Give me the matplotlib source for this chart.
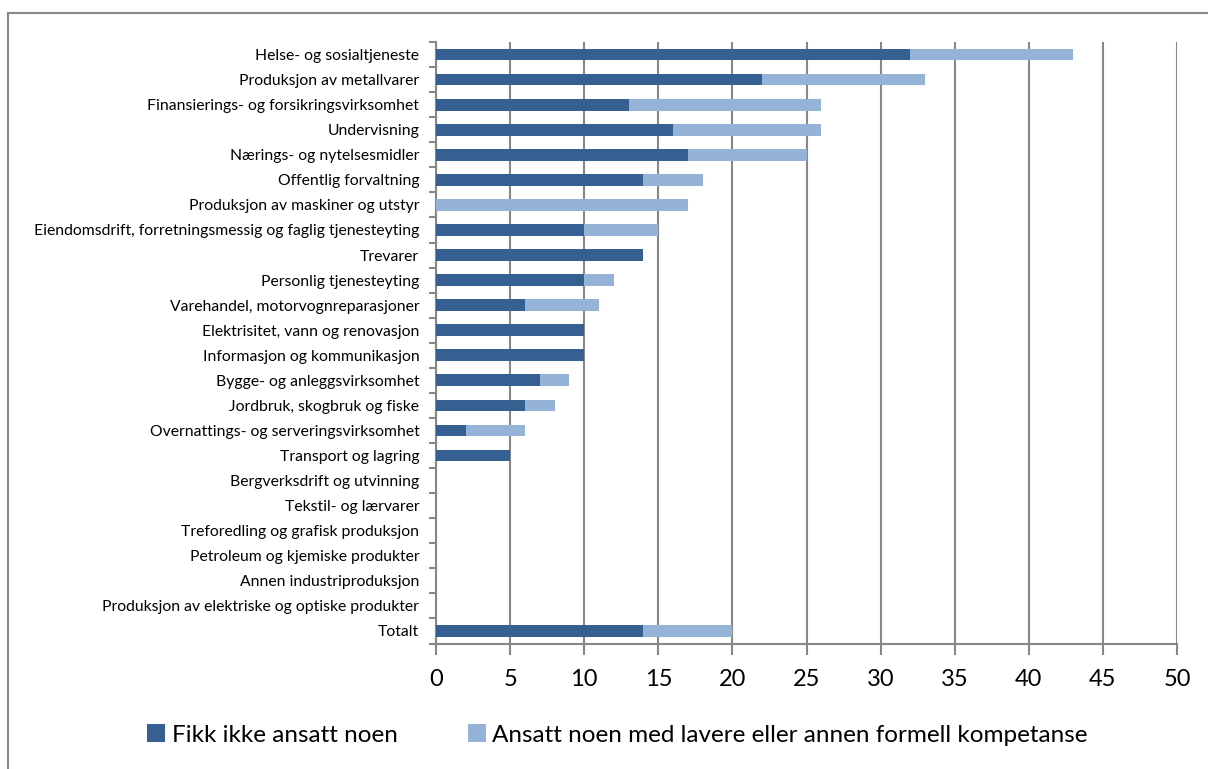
import numpy as np
import matplotlib.pyplot as plt
from matplotlib.patches import Rectangle

plt.rcParams['font.family'] = ['Lato', 'DejaVu Sans']

categories = [
    "Helse- og sosialtjeneste",
    "Produksjon av metallvarer",
    "Finansierings- og forsikringsvirksomhet",
    "Undervisning",
    "Nærings- og nytelsesmidler",
    "Offentlig forvaltning",
    "Produksjon av maskiner og utstyr",
    "Eiendomsdrift, forretningsmessig og faglig tjenesteyting",
    "Trevarer",
    "Personlig tjenesteyting",
    "Varehandel, motorvognreparasjoner",
    "Elektrisitet, vann og renovasjon",
    "Informasjon og kommunikasjon",
    "Bygge- og anleggsvirksomhet",
    "Jordbruk, skogbruk og fiske",
    "Overnattings- og serveringsvirksomhet",
    "Transport og lagring",
    "Bergverksdrift og utvinning",
    "Tekstil- og lærvarer",
    "Treforedling og grafisk produksjon",
    "Petroleum og kjemiske produkter",
    "Annen industriproduksjon",
    "Produksjon av elektriske og optiske produkter",
    "Totalt",
]
fikk_ikke = [32, 22, 13, 16, 17, 14, 0, 10, 14, 10, 6, 10, 10, 7, 6, 2, 5, 0, 0, 0, 0, 0, 0, 14]
lavere_komp = [11, 11, 13, 10, 8, 4, 17, 5, 0, 2, 5, 0, 0, 2, 2, 4, 0, 0, 0, 0, 0, 0, 0, 6]

dark = "#366092"
light = "#95b3d7"
grey = "#878787"

fig = plt.figure(figsize=(12.08, 7.69), dpi=100)
ax = fig.add_axes([436 / 1208, 1 - 643.5 / 769, (1177 - 436) / 1208, (643.5 - 42) / 769])

y = np.arange(len(categories))
ax.barh(y, fikk_ikke, height=0.47, color=dark, label="Fikk ikke ansatt noen", zorder=3)
ax.barh(y, lavere_komp, left=fikk_ikke, height=0.47, color=light,
        label="Ansatt noen med lavere eller annen formell kompetanse", zorder=3)

ax.set_xlim(0, 50)
ax.set_ylim(len(categories) - 0.5, -0.5)
ax.set_xticks(np.arange(0, 51, 5))
ax.set_yticks(y)
ax.set_yticklabels(categories, fontsize=11.3)
ax.set_yticks(np.arange(-0.5, len(categories), 1), minor=True)
ax.tick_params(axis='y', which='major', length=0, pad=12)
ax.tick_params(axis='y', which='minor', length=5, color=grey, width=1.5)
ax.tick_params(axis='x', length=8, color=grey, width=1.5, labelsize=17, pad=10)

ax.grid(axis='x', color=grey, linewidth=1.5, zorder=0)
ax.set_axisbelow(True)
for side in ['top', 'right']:
    ax.spines[side].set_visible(False)
for side in ['left', 'bottom']:
    ax.spines[side].set_color(grey)
    ax.spines[side].set_linewidth(1.5)

ax.legend(ncol=2, frameon=False, loc='center', bbox_to_anchor=(0.5 * (143 + 1092) / 1208, 1 - 735 / 769),
          bbox_transform=fig.transFigure, fontsize=17.5, handlelength=0.75, handleheight=0.75,
          handletextpad=0.25, columnspacing=2.9)

# outer chart frame
fig.add_artist(Rectangle((8 / 1208, -0.05), 1.2, 1.05 - 13 / 769, transform=fig.transFigure,
                         fill=False, edgecolor=grey, linewidth=1.5))

fig.savefig("out.png", dpi=100)
